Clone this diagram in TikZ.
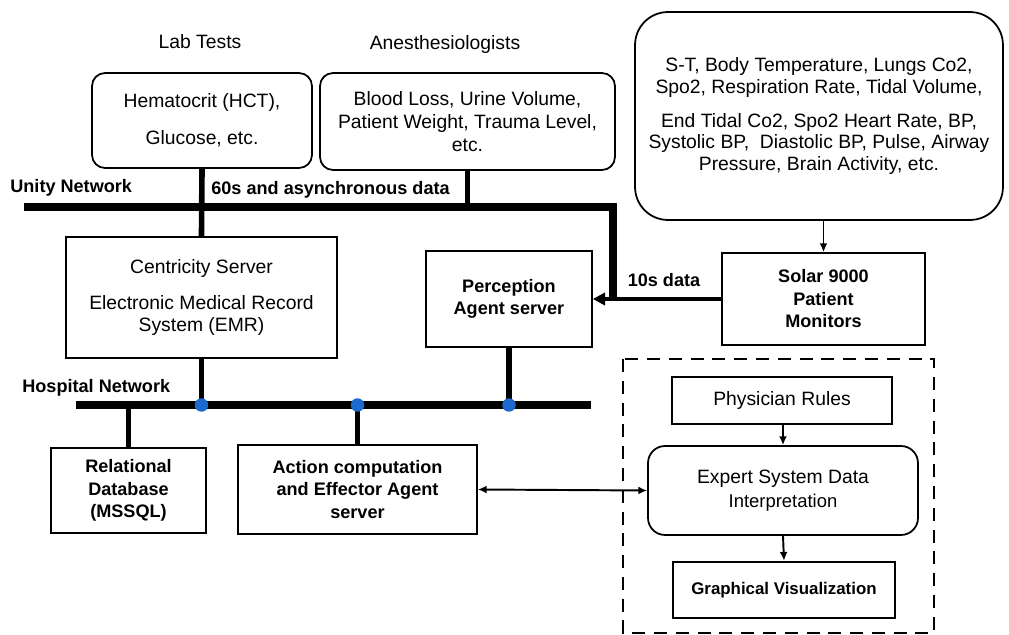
\documentclass[tikz,border=0pt]{standalone}
\usepackage{fontspec}
\setmainfont{Liberation Sans}
\usetikzlibrary{arrows.meta}
\definecolor{netblue}{RGB}{30,105,205}

\begin{document}
\begin{tikzpicture}[x=0.02cm,y=-0.02cm,
  every node/.style={font=\fontsize{11}{12.6}\selectfont},
  box/.style={draw,line width=1pt,align=center,inner sep=0pt},
  rbox/.style={box,rounded corners=#1},
  bbox/.style={box,font=\fontsize{10.3}{12.8}\selectfont\bfseries},
  lbl/.style={font=\fontsize{10.3}{12.8}\selectfont\bfseries,inner sep=0pt,anchor=west},
  bus/.style={line width=4pt},
  link/.style={line width=3.2pt},
  arr/.style={line width=1.1pt,-{Latex[length=5pt,width=4.5pt]}},
  dot/.style={circle,fill=netblue,inner sep=0pt,minimum size=0.27cm},
  dashbox/.style={line width=1.7pt,dash pattern=on 7.4pt off 5pt}]
\useasboundingbox (0,0) rectangle (1009,635);

% data sources
\node (labt) at (200,42) {Lab Tests};
\node (anest) at (445,45) {Anesthesiologists};
\node[rbox=0.26cm,minimum width=4.4cm,minimum height=1.9cm] (lab) at (202,120.5)
  {Hematocrit (HCT),\\[8.4pt] Glucose, etc.};
\node[rbox=0.26cm,minimum width=5.9cm,minimum height=1.94cm] (anes) at (467.5,121.5)
  {Blood Loss, Urine Volume,\\[0.7pt] Patient Weight, Trauma Level,\\[0.7pt] etc.};
\node[rbox=0.66cm,minimum width=7.36cm,minimum height=4.16cm,
  font=\fontsize{11}{12}\selectfont] (mon) at (819,116)
  {S-T, Body Temperature, Lungs Co2,\\ Spo2, Respiration Rate, Tidal Volume,\\[7.8pt]
   End Tidal Co2, Spo2 Heart Rate, BP,\\ Systolic BP,\ \ Diastolic BP, Pulse, Airway\\
   Pressure, Brain Activity, etc.};
\node[bbox,minimum width=4.06cm,minimum height=1.84cm] (solar) at (823.5,299)
  {Solar 9000\\ Patient\\ Monitors};

% servers
\node[box,minimum width=5.42cm,minimum height=2.42cm] (emr) at (201.5,297.5)
  {Centricity Server\\[7.8pt] Electronic Medical Record\\ System (EMR)};
\node[bbox,minimum width=3.32cm,minimum height=1.92cm] (perc) at (509,299)
  {Perception\\ Agent server};
\node[bbox,minimum width=3.1cm,minimum height=1.7cm] (rdb) at (128.5,490.5)
  {Relational\\ Database\\ (MSSQL)};
\node[bbox,minimum width=4.78cm,minimum height=1.78cm] (act) at (357.5,489.5)
  {Action computation\\ and Effector Agent\\ server};

% expert system
\draw[dashbox] (623,359) rectangle (934,633);
\node[box,minimum width=4.4cm,minimum height=0.94cm] (rules) at (782,400.5) {Physician Rules};
\node[rbox=0.34cm,minimum width=5.4cm,minimum height=1.78cm] (expert) at (783,490.5)
  {Expert System Data\\[1pt] {\fontsize{10.5}{12}\selectfont Interpretation}};
\node[bbox,line width=1.4pt,font=\fontsize{9.6}{12}\selectfont\bfseries,
  minimum width=4.44cm,minimum height=1.12cm] (graph) at (784,590) {Graphical Visualization};

% networks
\coordinate (uL) at (24,207);
\coordinate (uR) at (613,207);
\coordinate (hL) at (76,405);
\coordinate (hR) at (591,405);
\node[lbl] (unity) at (10,188) {Unity Network};
\node[lbl] (slow) at (211,190) {60s and asynchronous data};
\node[lbl] (hosp) at (22,388) {Hospital Network};
\node[lbl,anchor=center] (fast) at (664,280) {10s data};

\draw[bus] (uL) -- (uR) -- (uR |- perc.east);
\draw[bus] (hL) -- (hR);
\draw[link] (lab.south) -- (emr.north);
\draw[link] (anes.south) -- (anes.south |- uL);
\draw[link] (rdb.north) -- (rdb.north |- hL);
\foreach \n in {emr,act,perc}
  \draw[link] (\n) -- (\n |- hL);
\foreach \n in {emr,act,perc}
  \node[dot] (d\n) at (\n |- hL) {};

% data flow
\draw[line width=2.6pt,-{Triangle[length=7pt,width=7pt]}] (solar.west) -- (perc.east);
\draw[arr] (solar.north |- mon.south) -- (solar.north);
\draw[arr] (rules.south -| expert.north) -- (expert.north);
\draw[arr] (expert.south) -- (graph.north);
\draw[arr,{Latex[length=5pt,width=4.5pt]}-{Latex[length=5pt,width=4.5pt]}] (act.east) -- (expert.west);
\end{tikzpicture}
\end{document}
